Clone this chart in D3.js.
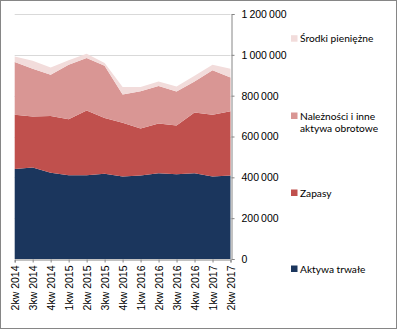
<!DOCTYPE html>
<html>
<head>
<meta charset="utf-8">
<script src="https://cdn.jsdelivr.net/npm/d3@7"></script>
<style>
  body { margin: 0; background: #fff; }
  svg { display: block; font-family: Lato, "Open Sans", sans-serif; }
</style>
</head>
<body>
<div id="chart"></div>
<script>
var quarters = ["2kw 2014", "3kw 2014", "4kw 2014", "1kw 2015", "2kw 2015", "3kw 2015", "4kw 2015",
                "1kw 2016", "2kw 2016", "3kw 2016", "4kw 2016", "1kw 2017", "2kw 2017"];
var aktywaTrwale = [441000, 448000, 422000, 410000, 410000, 417000, 404000, 409000, 420000, 415000, 420000, 404000, 409000];
var zapasy       = [265000, 250000, 279000, 275000, 317000, 274000, 263000, 230000, 244000, 239000, 298000, 302000, 315000];
var naleznosci   = [259000, 234000, 201000, 266000, 257000, 256000, 139000, 183000, 183000, 167000, 152000, 219000, 165000];
var srodki       = [27000, 39000, 36000, 23000, 21000, 13000, 36000, 20000, 23000, 24000, 27000, 26000, 43000];
var yTicks = [0, 200000, 400000, 600000, 800000, 1000000, 1200000];

var colors = ["#1B365D", "#C0504D", "#D99694", "#F2DCDB"];

var W = 398, H = 330;
var plotL = 14.7, plotR = 230.5, plotT = 14, plotB = 259;

var svg = d3.select("#chart").append("svg").attr("width", W).attr("height", H);

svg.append("rect").attr("x", 0.5).attr("y", 0.5).attr("width", W - 2).attr("height", H - 2)
  .attr("fill", "#fff").attr("stroke", "#868686");

var x = d3.scalePoint().domain(quarters).range([plotL, plotR]);
var y = d3.scaleLinear().domain([0, 1200000]).range([plotB, plotT]);

// gridlines
svg.append("g").selectAll("line").data(yTicks.slice(1)).enter().append("line")
  .attr("x1", plotL).attr("x2", plotR)
  .attr("y1", function(d) { return Math.round(y(d)) + 0.5; })
  .attr("y2", function(d) { return Math.round(y(d)) + 0.5; })
  .attr("stroke", "#d9d9d9");

var table = quarters.map(function(q, i) {
  return { q: q, a: aktywaTrwale[i], z: zapasy[i], n: naleznosci[i], s: srodki[i] };
});
var layers = d3.stack().keys(["a", "z", "n", "s"])(table);

var area = d3.area()
  .x(function(d) { return x(d.data.q); })
  .y0(function(d) { return y(d[0]); })
  .y1(function(d) { return y(d[1]); });

svg.append("g").selectAll("path").data(layers).enter().append("path")
  .attr("d", area)
  .attr("fill", function(d, i) { return colors[i]; });

// right axis
var yAxis = d3.axisRight(y).tickValues(yTicks).tickSize(3).tickPadding(7)
  .tickFormat(function(d) { return d3.format(",")(d).replace(/,/g, "\u2009"); });
var gy = svg.append("g").attr("transform", "translate(" + (Math.round(plotR) + 0.5) + ",0)").call(yAxis);
gy.selectAll("path, line").attr("stroke", "#868686");
gy.selectAll("text").attr("font-size", 10.5).attr("fill", "#000");

// bottom axis
var xAxis = d3.axisBottom(x).tickSize(3).tickPadding(3);
var gx = svg.append("g").attr("transform", "translate(0," + (plotB + 0.5) + ")").call(xAxis);
gx.selectAll("path, line").attr("stroke", "#868686");
gx.selectAll("text").attr("font-size", 10.5).attr("fill", "#000")
  .attr("text-anchor", "end").attr("dy", "0.35em")
  .attr("transform", "translate(0,3) rotate(-90)")
  .attr("x", -3).attr("y", 0);

// legend
var legendItems = [
  { i: 3, y: 38.7, lines: ["Środki pieniężne"] },
  { i: 2, y: 116, lines: ["Należności i inne", "aktywa obrotowe"] },
  { i: 1, y: 193, lines: ["Zapasy"] },
  { i: 0, y: 269, lines: ["Aktywa trwałe"] }
];
var lg = svg.append("g").selectAll("g").data(legendItems).enter().append("g");
lg.append("rect").attr("x", 291).attr("y", function(d) { return d.y - 3.5; })
  .attr("width", 6.5).attr("height", 6.5)
  .attr("fill", function(d) { return colors[d.i]; });
lg.each(function(d) {
  var t = d3.select(this).append("text").attr("x", 300).attr("y", d.y)
    .attr("font-size", 10.2).attr("fill", "#000");
  d.lines.forEach(function(l, k) {
    t.append("tspan").attr("x", 300).attr("dy", k === 0 ? "0.35em" : "12.7").text(l);
  });
});
</script>
</body>
</html>
